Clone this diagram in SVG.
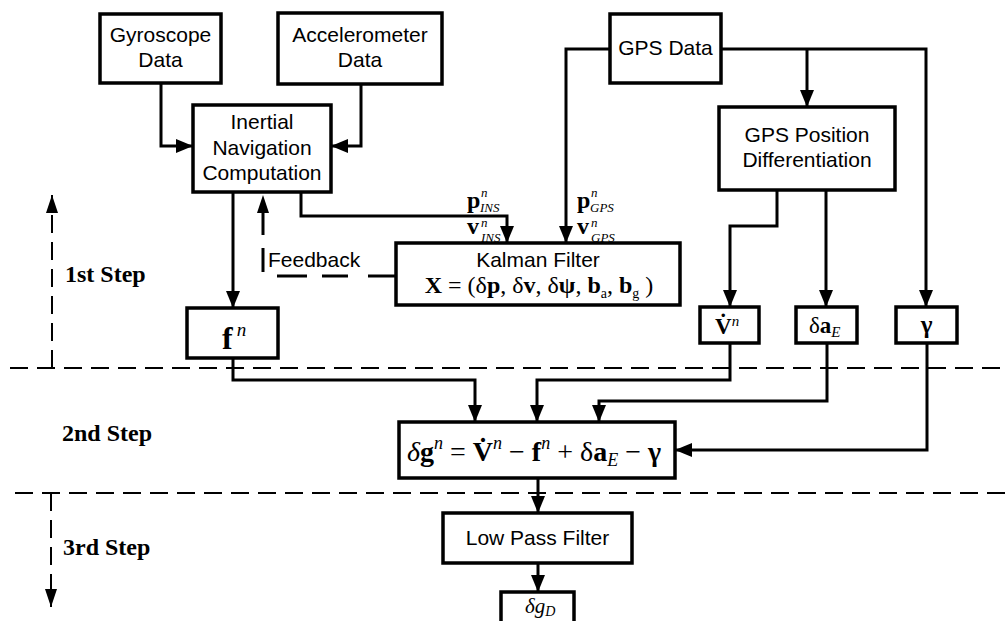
<svg xmlns="http://www.w3.org/2000/svg" width="1007" height="621" viewBox="0 0 1007 621">
<style>
.box{fill:#fff;stroke:#000;stroke-width:3.5}
.lbl{font-family:"Liberation Sans",Arial,sans-serif;font-size:21px;fill:#000;text-anchor:middle}
.m{font-family:"Liberation Serif","Times New Roman",serif;fill:#000}
.mb{font-family:"Liberation Serif","Times New Roman",serif;fill:#000;font-weight:bold;font-size:24px}
.mi{font-family:"Liberation Serif","Times New Roman",serif;fill:#000;font-style:italic;font-size:13px}
.con{fill:none;stroke:#000;stroke-width:3}
.dash{fill:none;stroke:#000;stroke-width:2;stroke-dasharray:18 9}
.step{font-family:"Liberation Serif","Times New Roman",serif;font-weight:bold;font-size:24px;fill:#000}
</style>
<defs>
<marker id="ah" viewBox="0 0 17 14" refX="17" refY="7" markerWidth="17" markerHeight="14" markerUnits="userSpaceOnUse" orient="auto"><path d="M0,0 L17,7 L0,14 z" fill="#000"/></marker>
<marker id="ahd" viewBox="0 0 18 12" refX="18" refY="6" markerWidth="18" markerHeight="12" markerUnits="userSpaceOnUse" orient="auto"><path d="M0,0 L18,6 L0,12 z" fill="#000"/></marker>
</defs>
<rect width="1007" height="621" fill="#fff"/>

<g id="steps">
<path class="dash" d="M10,368 H1007"/>
<path class="dash" d="M52,368 V195" marker-end="url(#ahd)"/>
<path class="dash" d="M15,493 H1007"/>
<path class="dash" d="M51,493 V607" marker-end="url(#ahd)"/>
<text class="step" x="65" y="282">1st Step</text>
<text class="step" x="62" y="441">2nd Step</text>
<text class="step" x="63" y="555">3rd Step</text>
</g>

<g id="connectors">
<path class="con" d="M161,83 V146 H193" marker-end="url(#ah)"/>
<path class="con" d="M361,84 V146 H331" marker-end="url(#ah)"/>
<path class="con" d="M233,192 V308" marker-end="url(#ah)"/>
<path class="con" d="M301,192 V216 H507 V243" marker-end="url(#ah)"/>
<path class="con" d="M610,49 H566 V243" marker-end="url(#ah)"/>
<path class="con" d="M721,49 H926 V307" marker-end="url(#ah)"/>
<path class="con" d="M807,49 V107" marker-end="url(#ah)"/>
<path class="con" d="M777,190 V226 H730 V307" marker-end="url(#ah)"/>
<path class="con" d="M826,190 V307" marker-end="url(#ah)"/>
<path class="con" d="M233,358 V380 H475 V422" marker-end="url(#ah)"/>
<path class="con" d="M730,343 V380 H537 V422" marker-end="url(#ah)"/>
<path class="con" d="M827,343 V401 H599 V422" marker-end="url(#ah)"/>
<path class="con" d="M927,343 V450 H675" marker-end="url(#ah)"/>
<path class="con" d="M538,478 V513" marker-end="url(#ah)"/>
<path class="con" d="M538,563 V592" marker-end="url(#ah)"/>
<path class="dash" style="stroke-width:3;stroke-dasharray:28 20 26 15 30 18 24 13 23 100" d="M396,276 H263 V195" marker-end="url(#ahd)"/>
<text class="lbl" x="268" y="267" style="text-anchor:start">Feedback</text>
<text class="mb" x="467" y="208">p</text>
<text class="mi" x="481" y="197">n</text>
<text class="mi" x="480" y="212">INS</text>
<text class="mb" x="467" y="234">v</text>
<text class="mi" x="481" y="227">n</text>
<text class="mi" x="481" y="242">INS</text>
<text class="mb" x="577" y="208">p</text>
<text class="mi" x="591" y="197">n</text>
<text class="mi" x="590" y="212">GPS</text>
<text class="mb" x="577" y="234">v</text>
<text class="mi" x="591" y="227">n</text>
<text class="mi" x="591" y="242">GPS</text>
</g>

<g id="gyro">
<rect class="box" x="100" y="14" width="121" height="69"/>
<text class="lbl" x="160.5" y="42">Gyroscope</text>
<text class="lbl" x="160.5" y="67">Data</text>
</g>
<g id="accel">
<rect class="box" x="278" y="13" width="164" height="71"/>
<text class="lbl" x="360" y="42">Accelerometer</text>
<text class="lbl" x="360" y="67">Data</text>
</g>
<g id="inertial">
<rect class="box" x="193" y="105" width="138" height="87"/>
<text class="lbl" x="262" y="129">Inertial</text>
<text class="lbl" x="262" y="155">Navigation</text>
<text class="lbl" x="262" y="180">Computation</text>
</g>
<g id="gps">
<rect class="box" x="610" y="14" width="111" height="69"/>
<text class="lbl" x="665.5" y="55">GPS Data</text>
</g>
<g id="gpspos">
<rect class="box" x="719" y="107" width="176" height="83"/>
<text class="lbl" x="807" y="142">GPS Position</text>
<text class="lbl" x="807" y="167">Differentiation</text>
</g>
<g id="kalman">
<rect class="box" x="396" y="243" width="284" height="62"/>
<text class="lbl" x="538" y="267">Kalman Filter</text>
<text class="m" x="539" y="293" font-size="24" text-anchor="middle"><tspan font-weight="bold">X</tspan> = (δ<tspan font-weight="bold">p</tspan>, δ<tspan font-weight="bold">v</tspan>, δ<tspan font-weight="bold">ψ</tspan>, <tspan font-weight="bold">b</tspan><tspan font-size="14" dy="5">a</tspan><tspan dy="-5">, </tspan><tspan font-weight="bold">b</tspan><tspan font-size="14" dy="5">g</tspan><tspan dy="-5"> )</tspan></text>
</g>
<g id="fn">
<rect class="box" x="187" y="308" width="91" height="50"/>
<text class="m" x="222" y="349" font-size="32" font-weight="bold">f<tspan font-size="19" font-weight="normal" font-style="italic" dy="-13" dx="4">n</tspan></text>
</g>
<g id="vdot">
<rect class="box" x="700" y="307" width="59" height="36"/>
<text class="m" x="715" y="334" font-size="23"><tspan font-weight="bold">V̇</tspan><tspan font-size="15" font-style="italic" dy="-8">n</tspan></text>
</g>
<g id="dae">
<rect class="box" x="796" y="307" width="61" height="36"/>
<text class="m" x="809" y="333" font-size="23">δ<tspan font-weight="bold">a</tspan><tspan font-size="15" font-style="italic" dy="4">E</tspan></text>
</g>
<g id="gamma">
<rect class="box" x="896" y="307" width="61" height="36"/>
<text class="m" x="926.5" y="333" font-size="25" font-weight="bold" text-anchor="middle">γ</text>
</g>
<g id="equation">
<rect class="box" x="399" y="422" width="276" height="56"/>
<text class="m" x="407" y="461" font-size="28"><tspan font-style="italic">δ</tspan><tspan font-weight="bold">g</tspan><tspan font-size="18" font-style="italic" dy="-12">n</tspan><tspan dy="12"> = </tspan><tspan font-weight="bold">V̇</tspan><tspan font-size="18" font-style="italic" dy="-12">n</tspan><tspan dy="12"> − </tspan><tspan font-weight="bold">f</tspan><tspan font-size="18" font-style="italic" dy="-12">n</tspan><tspan dy="12"> + δ</tspan><tspan font-weight="bold">a</tspan><tspan font-size="18" font-style="italic" dy="5">E</tspan><tspan dy="-5"> − </tspan><tspan font-weight="bold">γ</tspan></text>
</g>
<g id="lpf">
<rect class="box" x="443" y="513" width="189" height="50"/>
<text class="lbl" x="537.5" y="545">Low Pass Filter</text>
</g>
<g id="dgd">
<rect class="box" x="501" y="592" width="73" height="40"/>
<text class="m" x="525" y="613" font-size="21" font-style="italic">δg<tspan font-size="14" dy="3">D</tspan></text>
</g>
</svg>
